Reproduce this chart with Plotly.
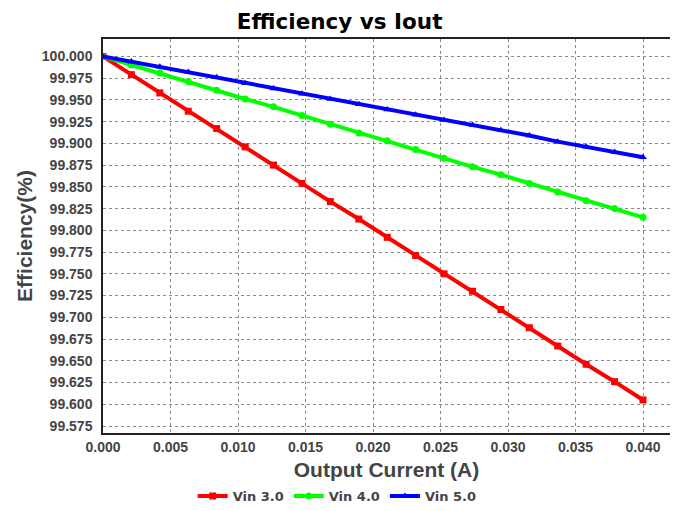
import plotly.graph_objects as go

iout = [i * 0.040 / 19 for i in range(20)]
vin3 = [100.000, 99.979, 99.958, 99.937, 99.917, 99.896, 99.875, 99.854, 99.833, 99.813,
        99.792, 99.771, 99.750, 99.730, 99.709, 99.688, 99.667, 99.646, 99.626, 99.605]
vin4 = [100.000, 99.990, 99.981, 99.971, 99.961, 99.951, 99.942, 99.932, 99.922, 99.912,
        99.903, 99.893, 99.883, 99.873, 99.864, 99.854, 99.844, 99.834, 99.825, 99.815]
vin5 = [100.000, 99.994, 99.988, 99.982, 99.976, 99.969, 99.963, 99.957, 99.951, 99.945,
        99.939, 99.933, 99.927, 99.921, 99.915, 99.909, 99.902, 99.896, 99.890, 99.884]
names = ["Vin 3.0", "Vin 4.0", "Vin 5.0"]
colors = ["#ff0000", "#00ff00", "#0000ff"]
symbols = ["square", "circle", "triangle-up"]

fig = go.Figure()
for name, ys, c, s in zip(names, [vin3, vin4, vin5], colors, symbols):
    fig.add_trace(go.Scatter(x=iout, y=ys, name=name, mode="lines+markers",
                             line=dict(color=c, width=4),
                             marker=dict(color=c, symbol=s, size=7)))

lib = "Liberation Sans, Arial, sans-serif"
dvs = "DejaVu Sans, sans-serif"
fig.update_layout(
    width=670, height=503,
    margin=dict(l=95, r=8, t=31, b=78, autoexpand=False),
    paper_bgcolor="white", plot_bgcolor="white",
    title=dict(text="<b>Efficiency vs Iout</b>", x=0.495, xanchor="center", xref="container",
               y=0.974, yanchor="middle",
               font=dict(family=dvs, size=21.5, color="black")),
    font=dict(family=lib),
    legend=dict(orientation="h", x=0.413, xanchor="center",
                y=-0.16, yanchor="middle",
                font=dict(family=dvs, size=13, color="#444444", weight="bold"),
                itemwidth=30, tracegroupgap=0),
    showlegend=True,
)
fig.update_xaxes(range=[0, 0.042], dtick=0.005, tick0=0, tickformat=".3f",
                 showline=True, linecolor="#222222", linewidth=1.5, mirror=True,
                 showgrid=True, gridcolor="#8a8a8a", griddash="dot", gridwidth=1,
                 zeroline=False, ticks="", ticklen=0, ticklabelstandoff=0, tickangle=0,
                 automargin=False,
                 tickfont=dict(family=lib, size=14, color="#444444", weight="bold"),
                 title=dict(text="<b>Output Current (A)</b>", standoff=9,
                            font=dict(family=lib, size=21, color="#444444")))
fig.update_yaxes(range=[99.567, 100.020], dtick=0.025, tick0=99.575, tickformat=".3f",
                 showline=True, linecolor="#222222", linewidth=1.5, mirror=True,
                 showgrid=True, gridcolor="#8a8a8a", griddash="dot", gridwidth=1,
                 zeroline=False, ticks="", ticklen=0, ticklabelstandoff=6,
                 automargin=False,
                 tickfont=dict(family=lib, size=14, color="#444444", weight="bold"),
                 title=dict(text="<b>Efficiency(%)</b>", standoff=3,
                            font=dict(family=lib, size=21, color="#444444")))
fig.write_html("out.html")
